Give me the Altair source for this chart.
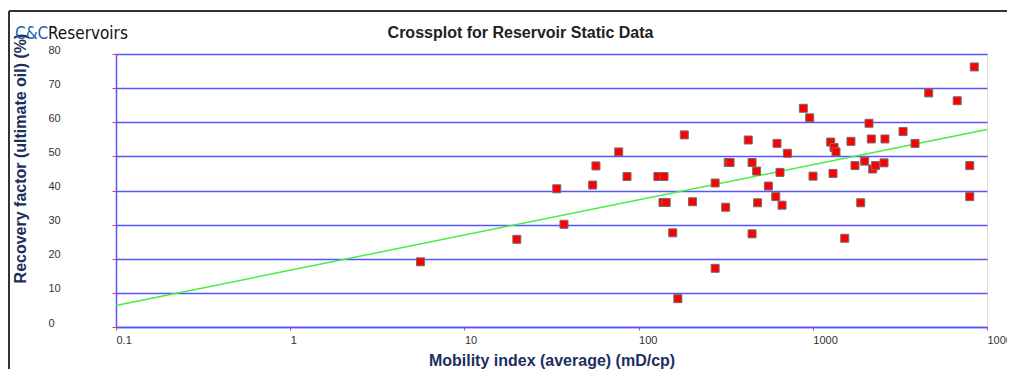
import altair as alt
import pandas as pd

# Mobility index (mD/cp) and recovery factor (%)
mobility = [5.6, 20.0, 33.9, 37.3, 54.5, 56.9, 76.9, 85.8, 129, 140,
            138, 144, 157, 168, 183, 204, 275, 275, 316, 327,
            335, 426, 448, 448, 476, 482, 556, 613, 623, 648,
            666, 715, 882, 960, 1003, 1267, 1324, 1359, 1306, 1525,
            1656, 1747, 1884, 1986, 2102, 2167, 2207, 2291, 2564, 2596,
            3296, 3863, 4627, 6745, 8453, 7962, 7962]
recovery = [19.1, 25.7, 40.5, 30.1, 41.6, 47.2, 51.3, 44.1, 44.1, 44.1,
            36.5, 36.5, 27.6, 8.3, 56.3, 36.7, 42.2, 17.2, 35.1, 48.2,
            48.2, 54.8, 48.2, 27.3, 45.7, 36.4, 41.3, 38.2, 53.8, 45.3,
            35.7, 50.9, 64.1, 61.3, 44.2, 54.2, 52.6, 51.3, 45.0, 26.0,
            54.4, 47.3, 36.4, 48.6, 59.7, 55.1, 46.3, 47.3, 48.1, 55.1,
            57.3, 53.8, 68.6, 66.3, 76.2, 47.3, 38.2]

# Trend line end points
trend_mobility = [0.1, 10000]
trend_recovery = [6.3, 57.9]

x_ticks = [0.1, 1, 10, 100, 1000, 10000]
y_ticks = [0, 10, 20, 30, 40, 50, 60, 70, 80]

points_df = pd.DataFrame({"mobility": mobility, "recovery": recovery})
trend_df = pd.DataFrame({"mobility": trend_mobility, "recovery": trend_recovery})

BLUE = "#5555ff"
RED_TICK = "#ff3333"
NAVY = "#1c2f5e"
FONT = "Liberation Sans"
LOGO_FONT = "DejaVu Sans Condensed, Liberation Sans Narrow, Liberation Sans"

x_enc = alt.X(
    "mobility:Q",
    scale=alt.Scale(type="log", domain=[0.1, 10000], nice=False),
    axis=alt.Axis(
        values=x_ticks, format="~g", grid=False,
        title="Mobility index (average) (mD/cp)",
        titleFont=FONT, titleFontSize=16, titleFontWeight="bold", titleColor=NAVY,
        titleY=33, titleBaseline="middle",
        labelFont=FONT, labelFontSize=11, labelColor="#333333",
        labelAlign="left", labelBaseline="top", labelPadding=4, labelFlush=False,
        tickColor=RED_TICK, tickSize=3, domainColor=BLUE, domainWidth=1.5,
    ),
)
y_enc = alt.Y(
    "recovery:Q",
    scale=alt.Scale(domain=[0, 80], nice=False),
    axis=alt.Axis(
        values=y_ticks, grid=True, gridColor=BLUE, gridWidth=1.5,
        title="Recovery factor (ultimate oil) (%)",
        titleFont=FONT, titleFontSize=16, titleFontWeight="bold", titleColor=NAVY,
        titleX=-96, titleY=104, titleBaseline="middle", titleAlign="center",
        labelFont=FONT, labelFontSize=11, labelColor="#333333",
        labelAlign="left", labelPadding=64, labelOffset=-4,
        tickColor=RED_TICK, tickSize=4, domainColor=BLUE, domainWidth=1.5,
    ),
)

trend = alt.Chart(trend_df).mark_line(color="#44ee44", strokeWidth=1.5).encode(
    x=x_enc, y=y_enc
)
points = alt.Chart(points_df).mark_square(
    size=64, color="#ff0000", opacity=1, stroke="#707070", strokeWidth=1
).encode(x=x_enc, y=y_enc)

logo_cc = alt.Chart(pd.DataFrame({"t": ["C&C"]})).mark_text(
    font=LOGO_FONT, fontSize=17, color="#1f5fae",
    align="left", baseline="alphabetic"
).encode(text="t:N", x=alt.value(-101), y=alt.value(-15))
logo_res = alt.Chart(pd.DataFrame({"t": ["Reservoirs"]})).mark_text(
    font=LOGO_FONT, fontSize=17, color="#111111",
    align="left", baseline="alphabetic"
).encode(text="t:N", x=alt.value(-68), y=alt.value(-15))

frame_top = alt.Chart(pd.DataFrame({"k": [0]})).mark_rule(color="#333333", strokeWidth=2).encode(
    x=alt.value(-107), x2=alt.value(905), y=alt.value(-43)
)
frame_left = alt.Chart(pd.DataFrame({"k": [0]})).mark_rule(color="#333333", strokeWidth=2).encode(
    x=alt.value(-107), y=alt.value(-43), y2=alt.value(330)
)

chart = alt.layer(trend, points, logo_cc, logo_res, frame_top, frame_left).properties(
    width=871, height=273,
    title=alt.TitleParams(
        "Crossplot for Reservoir Static Data", font=FONT, fontSize=16,
        fontWeight="bold", color="#222222", anchor="middle", frame="group",
        dx=-31, dy=35
    ),
    autosize=alt.AutoSizeParams(type="none"),
    padding={"left": 108, "top": 46, "right": 20, "bottom": 42},
).configure_view(stroke=BLUE, strokeWidth=1.5).configure(background="white")

chart.save("out.html", embed_options={"renderer": "svg", "actions": False})
